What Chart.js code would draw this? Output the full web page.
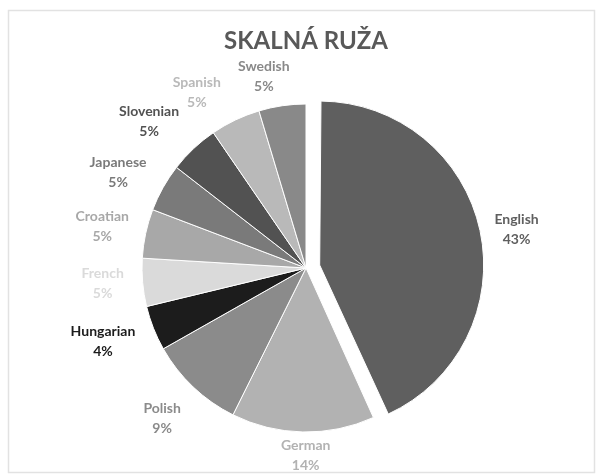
<!DOCTYPE html>
<html>
<head>
<meta charset="utf-8">
<script src="https://cdn.jsdelivr.net/npm/chart.js@4.4.1/dist/chart.umd.min.js"></script>
<style>
  html, body { margin: 0; padding: 0; background: #ffffff; }
  #wrap { width: 601px; height: 475px; position: relative; }
</style>
</head>
<body>
<div id="wrap"><canvas id="c" width="601" height="475"></canvas></div>
<script>
// ---- data ----
const categories = ['English', 'German', 'Polish', 'Hungarian', 'French', 'Croatian', 'Japanese', 'Slovenian', 'Spanish', 'Swedish'];
const shares = [43, 14, 9.4, 4.4, 4.7, 4.8, 4.7, 4.9, 4.9, 4.6];
const chartTitle = 'SKALNÁ RUŽA';

// ---- styles ----
const sliceColors = ['#5f5f5f', '#b2b2b2', '#8b8b8b', '#1c1c1c', '#dadada', '#a8a8a8', '#7a7a7a', '#525252', '#b9b9b9', '#898989'];
const sliceOffsets = [56, 0, 0, 0, 0, 0, 0, 0, 0, 0];
// label placement: angular nudge (deg) and distance from the slice's centre (px)
const labelNudgeDeg = [2, -1, 0.3, 1.6, 0.6, -0.5, -2.3, -3.6, -6.3, -4.1];
const labelDistance = [200, 187, 208, 216, 204, 208, 211, 215, 207, 196];

const frameAndFix = {
  id: 'frameAndFix',
  beforeDraw(chart) {
    const ctx = chart.ctx;
    ctx.save();
    ctx.fillStyle = '#ffffff';
    ctx.fillRect(0, 0, chart.width, chart.height);
    ctx.strokeStyle = '#e2e2e2';
    ctx.lineWidth = 1.5;
    ctx.strokeRect(8.5, 10.5, 586, 462);
    ctx.restore();
  },
  beforeDatasetsDraw(chart) {
    // keep the exploded slice at the same radius as the others
    const meta = chart.getDatasetMeta(0);
    const R = meta.controller.outerRadius;
    meta.data.forEach(el => {
      const off = (el.options.offset || 0) / 4;
      const fix = 1 - Math.sin(Math.min(Math.PI, el.circumference || 0));
      el.outerRadius = R - off * fix;
    });
  }
};

const outsideLabels = {
  id: 'outsideLabels',
  afterDatasetsDraw(chart) {
    const ctx = chart.ctx;
    const meta = chart.getDatasetMeta(0);
    const data = chart.data.datasets[0].data;
    const total = data.reduce((a, b) => a + b, 0);
    ctx.save();
    ctx.textAlign = 'center';
    ctx.textBaseline = 'middle';
    ctx.font = 'bold 14px Lato';
    meta.data.forEach((el, i) => {
      const mid = (el.startAngle + el.endAngle) / 2;
      const off = (el.options.offset || 0) / 4;
      const cx = el.x + Math.cos(mid) * off;
      const cy = el.y + Math.sin(mid) * off;
      const a = mid + labelNudgeDeg[i] * Math.PI / 180;
      const lx = cx + Math.cos(a) * labelDistance[i];
      const ly = cy + Math.sin(a) * labelDistance[i];
      ctx.fillStyle = sliceColors[i];
      ctx.fillText(chart.data.labels[i], lx, ly - 10);
      ctx.fillText(Math.round(data[i] / total * 100) + '%', lx, ly + 10);
    });
    ctx.restore();
  }
};

new Chart(document.getElementById('c'), {
  type: 'pie',
  data: {
    labels: categories,
    datasets: [{
      data: shares,
      backgroundColor: sliceColors,
      borderColor: '#ffffff',
      borderWidth: 1,
      offset: sliceOffsets
    }]
  },
  options: {
    responsive: false,
    animation: false,
    events: [],
    radius: 164,
    layout: { padding: { left: 61, right: 50, top: 0, bottom: 14.4 } },
    plugins: {
      legend: { display: false },
      tooltip: { enabled: false },
      title: {
        display: true,
        text: chartTitle,
        color: '#595959',
        font: { family: 'Lato', size: 24, weight: 'bold', lineHeight: 1.2 },
        padding: { top: 26.6, bottom: 20 }
      }
    }
  },
  plugins: [frameAndFix, outsideLabels]
});
</script>
</body>
</html>
